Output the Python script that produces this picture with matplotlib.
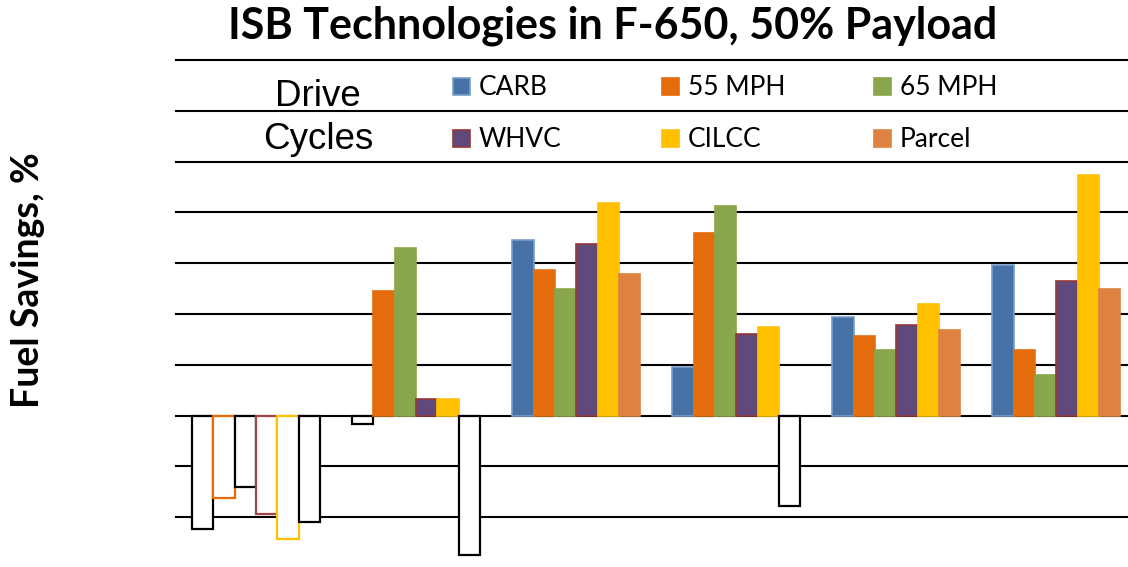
import matplotlib
matplotlib.use("Agg")
import matplotlib.pyplot as plt
import numpy as np
from matplotlib.patches import Rectangle

# values (one gridline = 1 unit, no tick labels shown)
carb = [-2.24, -0.16, 3.46, 0.96, 1.95, 2.97]
mph55 = [-1.63, 2.46, 2.87, 3.59, 1.57, 1.29]
mph65 = [-1.40, 3.29, 2.49, 4.13, 1.29, 0.79]
whvc = [-1.93, 0.33, 3.37, 1.60, 1.78, 2.64]
cilcc = [-2.42, 0.33, 4.18, 1.74, 2.19, 4.74]
parcel = [-2.09, -2.74, 2.79, -1.77, 1.69, 2.49]

series_names = ["CARB", "55 MPH", "65 MPH", "WHVC", "CILCC", "Parcel"]
series_vals = [carb, mph55, mph65, whvc, cilcc, parcel]
fill_colors = ["#4672A8", "#E46C0A", "#8AA64C", "#604A7B", "#FFC000", "#DD8240"]
pos_edges = ["#7A9CC6", "#E46C0A", "#8AA64C", "#953735", "#FFC000", "#DD8240"]
neg_edges = ["black", "#E46C0A", "black", "#A04545", "#FFC000", "black"]

W, H = 1128, 567
fig = plt.figure(figsize=(W / 100, H / 100), dpi=100)
ax = fig.add_axes([176 / W, 1 - 568 / H, 960.5 / W, 508 / H])

n = len(series_vals)
width = 0.8 / n
x = np.arange(len(carb))

for y in range(-2, 8):
    ax.axhline(y, color="black", lw=1.5, zorder=1, clip_on=False)

for i, vals in enumerate(series_vals):
    vals = np.array(vals)
    faces = [fill_colors[i] if v >= 0 else "white" for v in vals]
    edges = [pos_edges[i] if v >= 0 else neg_edges[i] for v in vals]
    lws = [1.2 if v >= 0 else 1.6 for v in vals]
    ax.bar(x - 0.4 + width * (i + 0.5), vals, width, color=faces,
           edgecolor=edges, linewidth=lws, zorder=3)

ax.set_xlim(-0.5, 5.5)
ax.set_ylim(-3, 7)
ax.axis("off")

# title and y label
fig.text(613 / W, 1 - 26 / H, "ISB Technologies in F-650, 50% Payload",
         ha="center", va="center", fontsize=31, fontweight="bold",
         family="Lato")
fig.text(28 / W, 1 - 280 / H, "Fuel Savings, %", rotation=90,
         ha="center", va="center", fontsize=27, fontweight="bold",
         family="Lato")

# legend block
fig.text(318 / W, 1 - 106 / H, "Drive", ha="center", va="baseline",
         fontsize=26.5, family="Liberation Sans")
fig.text(318 / W, 1 - 149 / H, "Cycles", ha="center", va="baseline",
         fontsize=26.5, family="Liberation Sans")
col_x = [453, 662, 874]
row_top = [78, 130]
row_base = [95, 147]
for i, name in enumerate(series_names):
    r, c = divmod(i, 3)
    fig.add_artist(Rectangle((col_x[c] / W, 1 - (row_top[r] + 17) / H),
                             17 / W, 17 / H, transform=fig.transFigure,
                             facecolor=fill_colors[i],
                             edgecolor=pos_edges[i], lw=1.2))
    fig.text((col_x[c] + 26) / W, 1 - row_base[r] / H, name,
             ha="left", va="baseline", fontsize=19, family="Lato")

fig.savefig("out.png", dpi=100)
